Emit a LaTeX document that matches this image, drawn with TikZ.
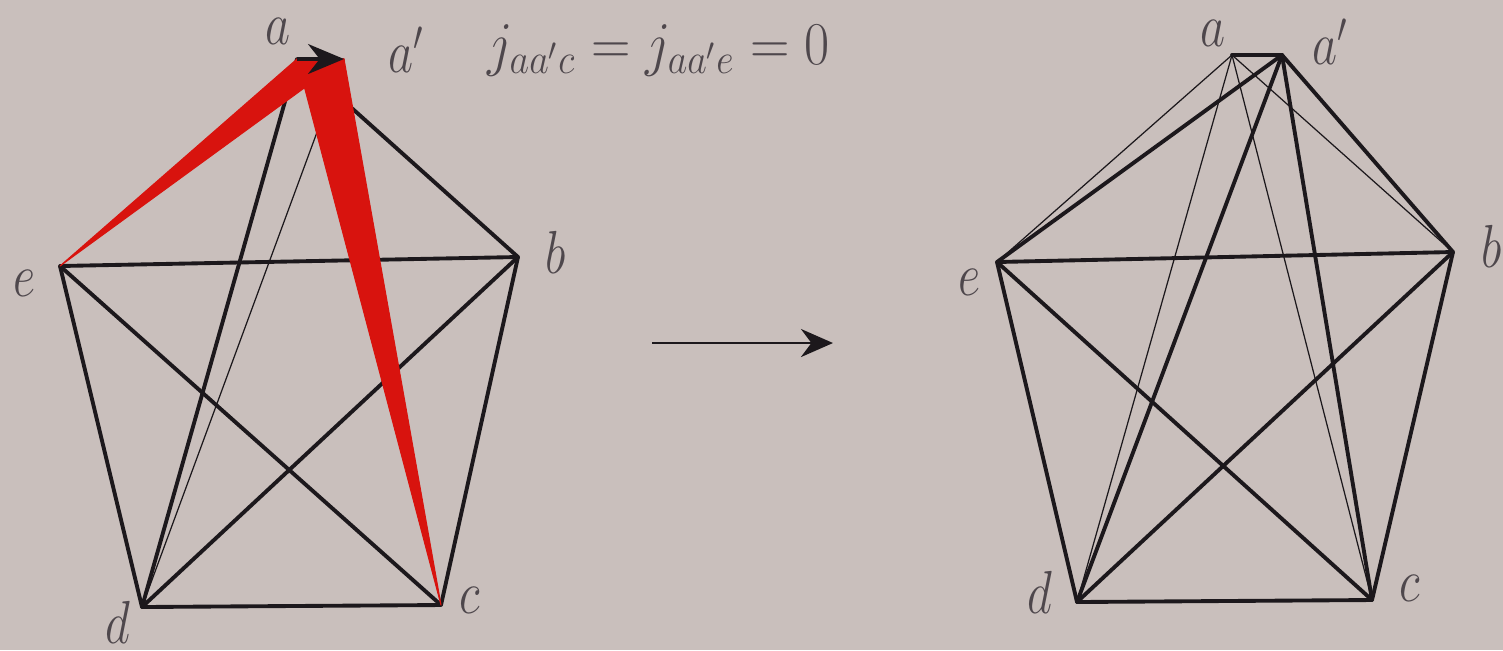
\documentclass[tikz,border=0pt]{standalone}
\usepackage{amsmath}
\usepackage{tikz}
\usetikzlibrary{arrows.meta,positioning,calc}
\definecolor{SlideBg}{HTML}{C9BFBC}
\definecolor{SlideInk}{HTML}{1C181C}
\definecolor{SlideText}{HTML}{4E474C}
\definecolor{SlideRed}{HTML}{D8130E}
\newcommand{\tallmath}[1]{\scalebox{0.8}[1]{$#1$}}
\tikzset{
  vtx/.style={inner sep=0pt,minimum size=0pt},
  lbl/.style={text=SlideText,inner sep=1pt,font=\fontsize{18}{22}\selectfont},
  fatedge/.style={line width=1.1pt,draw=SlideInk,line cap=round},
  thinedge/.style={line width=0.35pt,draw=SlideInk},
  redface/.style={fill=SlideRed,draw=SlideRed,line width=0.3pt,line join=round},
  splitarrow/.style={-{Stealth[length=3.6mm,width=3mm]},line width=0.9pt,draw=SlideInk},
  movearrow/.style={-{Stealth[length=3.2mm,width=2.8mm]},line width=0.8pt,draw=SlideInk}
}
\begin{document}
\begin{tikzpicture}[x=0.01cm,y=-0.01cm]
\fill[SlideBg] (0,0) rectangle (1503,650);
\useasboundingbox (0,0) rectangle (1503,650);
% left: vertex a split into a and a'
\node[vtx] (a) at (297,59) {};
\node[vtx] (ap) at (344,59) {};
\node[vtx] (b) at (518,257) {};
\node[vtx] (c) at (441,605) {};
\node[vtx] (d) at (142,607) {};
\node[vtx] (e) at (60,266) {};
\foreach \u/\v in {e/b,e/d,e/c,d/c,d/b,b/c,d/a,a/b}
  \draw[fatedge] (\u.center)--(\v.center);
\draw[thinedge] (d.center)--(ap.center);
\fill[redface] (e.center)--(a.center)--(ap.center)--cycle;
\fill[redface] (a.center)--(ap.center)--(c.center)--cycle;
\draw[splitarrow] (a.center)--(ap.center);
\node[lbl] (la) at (278,31) {\tallmath{a}};
\node[lbl] (lap) at (406,50) {\tallmath{a'}};
\node[lbl] (lb) at (556,252) {\tallmath{b}};
\node[lbl] (lc) at (470,600) {\tallmath{c}};
\node[lbl] (ld) at (118,622) {\tallmath{d}};
\node[lbl] (le) at (25,283) {\tallmath{e}};
\node[lbl,right=22pt of lap.center] (spin) {\scalebox{0.9}[1]{$j_{aa'c}=j_{aa'e}=0$}};
% the move
\coordinate (m1) at (652,343);
\coordinate (m2) at (833,343);
\draw[movearrow] (m1)--(m2);
% right: after the move
\node[vtx] (ra) at (1232,55) {};
\node[vtx] (rap) at (1282,55) {};
\node[vtx] (rb) at (1453,252) {};
\node[vtx] (rc) at (1372,600) {};
\node[vtx] (rd) at (1077,602) {};
\node[vtx] (re) at (997,262) {};
\foreach \v in {re,rb,rc,rd}
  \draw[thinedge] (ra.center)--(\v.center);
\foreach \u/\v in {re/rb,re/rd,re/rc,rd/rc,rd/rb,rb/rc,rap/re,rap/rd,rap/rc,rap/rb,ra/rap}
  \draw[fatedge] (\u.center)--(\v.center);
\node[lbl] (rla) at (1213,33) {\tallmath{a}};
\node[lbl] (rlap) at (1330,42) {\tallmath{a'}};
\node[lbl] (rlb) at (1492,246) {\tallmath{b}};
\node[lbl] (rlc) at (1410,588) {\tallmath{c}};
\node[lbl] (rld) at (1040,592) {\tallmath{d}};
\node[lbl] (rle) at (970,282) {\tallmath{e}};
\end{tikzpicture}
\end{document}
